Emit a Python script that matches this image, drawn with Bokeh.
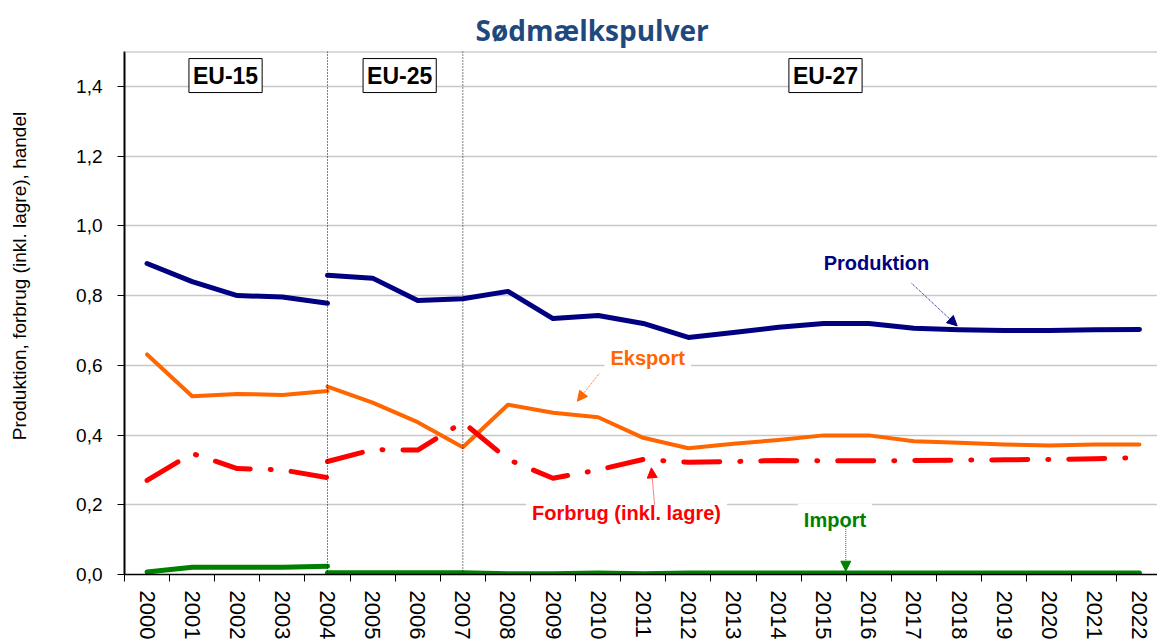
from bokeh.plotting import figure
from bokeh.models import (ColumnDataSource, Range1d, FixedTicker, CustomJSTickFormatter,
                          Span, Label, Arrow, NormalHead)
from bokeh.embed import file_html
from bokeh.resources import INLINE

# ---------------- data ----------------
years_eu15 = [2000, 2001, 2002, 2003, 2004]
years_eu27 = list(range(2004, 2023))

produktion_eu15 = [0.892, 0.840, 0.800, 0.796, 0.778]
produktion_eu27 = [0.858, 0.850, 0.786, 0.791, 0.812, 0.734, 0.743, 0.720, 0.680, 0.694,
                   0.709, 0.720, 0.720, 0.706, 0.702, 0.700, 0.700, 0.702, 0.703]

eksport_eu15 = [0.631, 0.511, 0.518, 0.515, 0.526]
eksport_eu27 = [0.539, 0.493, 0.437, 0.365, 0.487, 0.464, 0.451, 0.392, 0.362, 0.375,
                0.386, 0.399, 0.399, 0.382, 0.378, 0.373, 0.370, 0.373, 0.373]

forbrug_eu15 = [0.270, 0.347, 0.304, 0.300, 0.278]
forbrug_eu27 = [0.324, 0.358, 0.357, 0.437, 0.330, 0.276, 0.300, 0.330, 0.322, 0.324,
                0.327, 0.326, 0.326, 0.327, 0.328, 0.329, 0.330, 0.332, 0.335]

import_eu15 = [0.007, 0.021, 0.021, 0.021, 0.024]
import_eu27 = [0.005, 0.005, 0.005, 0.005, 0.002, 0.002, 0.004, 0.002, 0.004, 0.004,
               0.004, 0.004, 0.004, 0.004, 0.004, 0.004, 0.004, 0.004, 0.004]

y_ticks = [0.0, 0.2, 0.4, 0.6, 0.8, 1.0, 1.2, 1.4]
enlargement_years = [2004, 2007]
period_labels = ["EU-15", "EU-25", "EU-27"]
period_label_x = [2001.74, 2005.6, 2015.04]

TITLE = "Sødmælkspulver"
Y_LABEL = "Produktion, forbrug (inkl. lagre), handel"

# ---------------- figure ----------------
p = figure(width=1157, height=643, output_backend="svg", toolbar_location=None,
           x_range=Range1d(1999.5, 2022.4), y_range=Range1d(0, 1.5),
           min_border_left=124, min_border_top=51, min_border_bottom=69, min_border_right=0)
p.outline_line_color = None
p.background_fill_color = "white"

p.title.text = TITLE
p.title.align = "left"
p.title.offset = 351
p.title.text_font = "Open Sans"
p.title.text_font_style = "bold"
p.title.text_font_size = "28px"
p.title.text_color = "#1F497D"
p.title.standoff = 5

# axes
xa = p.xaxis[0]
xa.ticker = FixedTicker(ticks=list(range(2000, 2023)),
                        minor_ticks=[1999.5 + i for i in range(24)])
xa.major_tick_line_color = None
xa.major_tick_out = 6
xa.minor_tick_in = 0
xa.minor_tick_out = 7
xa.minor_tick_line_color = "black"
xa.minor_tick_line_width = 1
xa.major_label_orientation = "vertical"
xa.major_label_text_font = "Liberation Sans"
xa.major_label_text_font_size = "22px"
xa.major_label_text_color = "black"
xa.major_label_standoff = 9
xa.axis_line_color = "black"
xa.axis_line_width = 1.5

ya = p.yaxis[0]
ya.ticker = FixedTicker(ticks=y_ticks)
ya.formatter = CustomJSTickFormatter(code="return tick.toFixed(1).replace('.', ',');")
ya.minor_tick_line_color = None
ya.major_tick_in = 0
ya.major_tick_out = 7
ya.major_tick_line_color = "black"
ya.major_label_text_font = "Liberation Sans"
ya.major_label_text_font_size = "19px"
ya.major_label_text_color = "black"
ya.major_label_standoff = 15
ya.axis_line_color = "black"
ya.axis_line_width = 2
# leading no-break spaces shift the title upward, as in the original
ya.axis_label = "\u00a0" * 14 + Y_LABEL
ya.axis_label_text_font = "Liberation Sans"
ya.axis_label_text_font_style = "normal"
ya.axis_label_text_font_size = "19px"
ya.axis_label_text_color = "black"
ya.axis_label_standoff = 43

p.xgrid.grid_line_color = None
p.ygrid.ticker = FixedTicker(ticks=y_ticks[1:])
p.ygrid.grid_line_color = "#C8C8C8"
p.ygrid.grid_line_width = 1.5

p.add_layout(Span(location=1.5, dimension="width", line_color="#B4B4B4", line_width=2))

for yr in enlargement_years:
    p.add_layout(Span(location=yr, dimension="height", line_color="black",
                      line_dash="1 2", line_width=1))

# ---------------- series ----------------
series = [
    (produktion_eu15, produktion_eu27, "#000080", None, 5),
    (eksport_eu15, eksport_eu27, "#FF6600", None, 4),
    (forbrug_eu15, forbrug_eu27, "#FF0000", "36 20 1 20", 5),
    (import_eu15, import_eu27, "#008000", None, 5),
]
for v15, v27, color, dash, lw in series:
    for xs, vs in ((years_eu15, v15), (years_eu27, v27)):
        src = ColumnDataSource(dict(x=xs, y=vs))
        kw = dict(line_color=color, line_width=lw, line_join="round", line_cap="round")
        if dash:
            kw["line_dash"] = dash
        p.line("x", "y", source=src, **kw)

# ---------------- period labels ----------------
for txt, xv in zip(period_labels, period_label_x):
    p.add_layout(Label(x=xv, y=1.431, text=txt, text_align="center", text_baseline="middle",
                       text_font="Liberation Sans", text_font_style="bold",
                       text_font_size="23px", text_color="black",
                       background_fill_color="white", border_line_color="black",
                       border_line_width=1, padding=4))

# ---------------- series annotations ----------------
annotations = [
    ("Produktion", 2016.17, 0.892, "#000080", None, (2016.95, 0.835, 2017.96, 0.713)),
    ("Eksport", 2011.10, 0.622, "#FF6600", "white", (2010.02, 0.576, 2009.54, 0.497)),
    ("Forbrug (inkl. lagre)", 2010.63, 0.175, "#FF0000", "white", (2011.25, 0.201, 2011.18, 0.306)),
    ("Import", 2015.25, 0.155, "#008000", "white", (2015.49, 0.136, 2015.49, 0.0095)),
]
for txt, xv, yv, color, bg, (x0, y0, x1, y1) in annotations:
    p.add_layout(Label(x=xv, y=yv, text=txt, text_align="center", text_baseline="middle",
                       text_font="Liberation Sans", text_font_style="bold",
                       text_font_size="20px", text_color=color,
                       background_fill_color=bg, padding=6))
    p.add_layout(Arrow(end=NormalHead(size=10, fill_color=color, line_color=color),
                       x_start=x0, y_start=y0, x_end=x1, y_end=y1,
                       line_color=color, line_dash="1 1", line_width=1))

open("out.html", "w").write(file_html(p, INLINE))
